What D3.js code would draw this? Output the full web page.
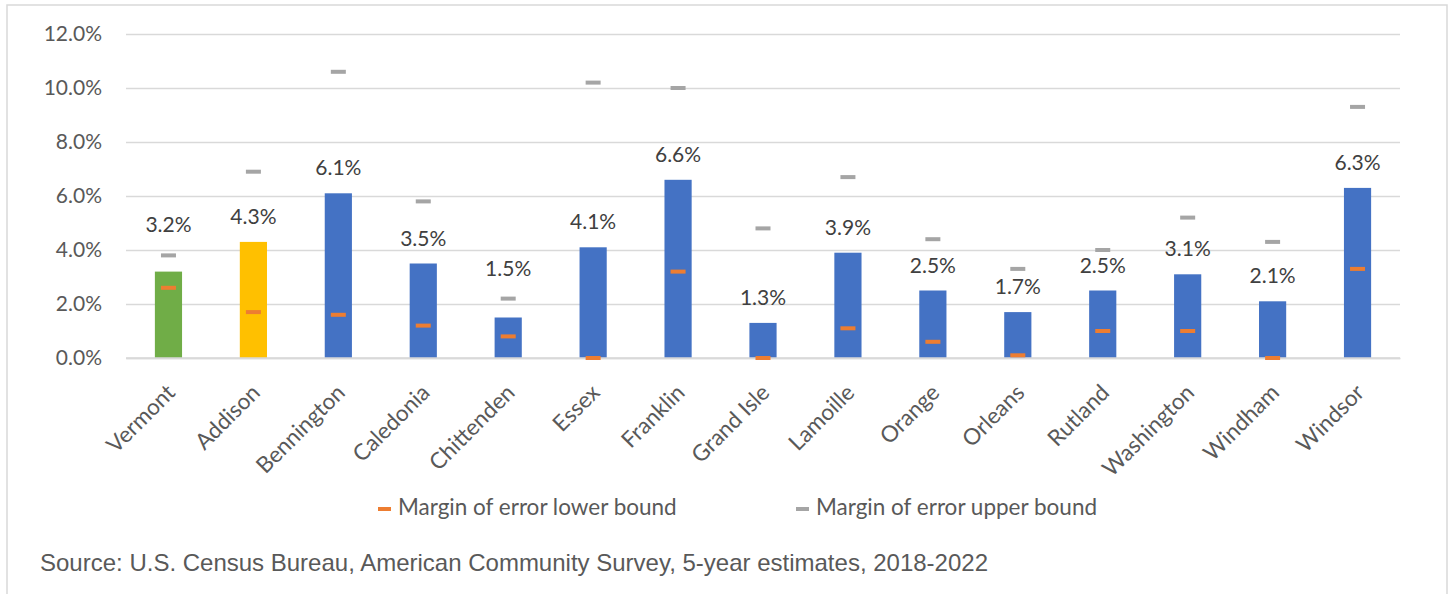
<!DOCTYPE html>
<html>
<head>
<meta charset="utf-8">
<script src="https://cdn.jsdelivr.net/npm/d3@7"></script>
<style>
  html, body { margin: 0; padding: 0; background: #ffffff; }
  svg { display: block; }
</style>
</head>
<body>
<svg id="chart" width="1450" height="594"></svg>
<script>
// Counties of Vermont, share estimate with its margin-of-error bounds (percent)
const categories = ["Vermont", "Addison", "Bennington", "Caledonia", "Chittenden", "Essex",
  "Franklin", "Grand Isle", "Lamoille", "Orange", "Orleans", "Rutland", "Washington",
  "Windham", "Windsor"];
const estimates   = [3.2, 4.3, 6.1, 3.5, 1.5, 4.1, 6.6, 1.3, 3.9, 2.5, 1.7, 2.5, 3.1, 2.1, 6.3];
const lowerBounds = [2.6, 1.7, 1.6, 1.2, 0.8, 0.0, 3.2, 0.0, 1.1, 0.6, 0.1, 1.0, 1.0, 0.0, 3.3];
const upperBounds = [3.8, 6.9, 10.6, 5.8, 2.2, 10.2, 10.0, 4.8, 6.7, 4.4, 3.3, 4.0, 5.2, 4.3, 9.3];
const yTicks = [0, 2, 4, 6, 8, 10, 12];
const legendLabels = ["Margin of error lower bound", "Margin of error upper bound"];
const sourceNote = "Source: U.S. Census Bureau, American Community Survey, 5-year estimates, 2018-2022";

const rows = categories.map((c, i) => ({
  name: c, value: estimates[i], lo: lowerBounds[i], hi: upperBounds[i], idx: i
}));

const svg = d3.select("#chart");
const FONT = "Lato, 'Open Sans', sans-serif";
const plot = { left: 126, right: 1400, top: 34, bottom: 358 };

// outer frame
svg.append("rect")
  .attr("x", 7).attr("y", 5).attr("width", 1440).attr("height", 600)
  .attr("fill", "none").attr("stroke", "#d9d9d9").attr("stroke-width", 1.5);

const x = d3.scaleBand().domain(categories)
  .range([plot.left, plot.right]).paddingInner(0.68).paddingOuter(0.34);
const y = d3.scaleLinear().domain([0, 12]).range([plot.bottom, plot.top]);

// y axis with gridlines
const yAxis = svg.append("g")
  .attr("transform", `translate(${plot.left},0)`)
  .call(d3.axisLeft(y).tickValues(yTicks)
    .tickSize(-(plot.right - plot.left)).tickPadding(24)
    .tickFormat(d => d3.format(".1f")(d) + "%"));
yAxis.select(".domain").remove();
yAxis.selectAll(".tick line").attr("stroke", "#d9d9d9").attr("stroke-width", 1.3);
yAxis.selectAll(".tick text")
  .attr("fill", "#595959").style("font-family", FONT).style("font-size", "21px");

// category axis
const xAxis = svg.append("g")
  .attr("transform", `translate(0,${plot.bottom})`)
  .call(d3.axisBottom(x).tickSize(0).tickPadding(0));
xAxis.select(".domain").attr("stroke", "#d9d9d9").attr("stroke-width", 1.5);
xAxis.selectAll(".tick text")
  .attr("y", 0).attr("dy", 0)
  .attr("text-anchor", "end")
  .attr("transform", "translate(8,36) rotate(-45)")
  .attr("fill", "#595959").style("font-family", FONT).style("font-size", "22.5px");

// bars: state total, first county highlighted, then the rest
const barColor = i => i === 0 ? "#70ad47" : (i === 1 ? "#ffc000" : "#4472c4");
svg.append("g").selectAll("rect")
  .data(rows).join("rect")
  .attr("x", d => x(d.name))
  .attr("width", x.bandwidth())
  .attr("y", d => y(d.value))
  .attr("height", d => y(0) - y(d.value))
  .attr("fill", d => barColor(d.idx));

// redraw baseline over bars
svg.append("line")
  .attr("x1", plot.left).attr("x2", plot.right)
  .attr("y1", plot.bottom).attr("y2", plot.bottom)
  .attr("stroke", "#d9d9d9").attr("stroke-width", 1.5);

// margin-of-error dash markers
const mW = 15, mH = 4;
function markers(key, color) {
  svg.append("g").selectAll("rect")
    .data(rows).join("rect")
    .attr("x", d => x(d.name) + x.bandwidth() / 2 - mW / 2)
    .attr("y", d => y(d[key]) - mH / 2)
    .attr("width", mW).attr("height", mH)
    .attr("fill", color);
}
markers("hi", "#a5a5a5");
markers("lo", "#ed7d31");

// value labels above bars; lifted above the upper marker if they would overlap it
svg.append("g").selectAll("text")
  .data(rows).join("text")
  .attr("x", d => x(d.name) + x.bandwidth() / 2)
  .attr("y", d => {
    let base = y(d.value) - 18;
    const my = y(d.hi);
    if (my > base - 17 && my < base + 4) base = my - 23;
    return base;
  })
  .attr("text-anchor", "middle")
  .attr("fill", "#404040")
  .style("font-family", FONT).style("font-size", "21px")
  .text(d => d3.format(".1f")(d.value) + "%");

// legend
const legendColors = ["#ed7d31", "#a5a5a5"];
const legendX = [378, 796];
const lg = svg.append("g");
legendLabels.forEach((t, i) => {
  lg.append("rect").attr("x", legendX[i]).attr("y", 507).attr("width", 13).attr("height", 4)
    .attr("fill", legendColors[i]);
  lg.append("text").attr("x", legendX[i] + 20).attr("y", 515)
    .attr("fill", "#595959").style("font-family", FONT).style("font-size", "22.5px")
    .text(t);
});

// source note
svg.append("text")
  .attr("x", 40).attr("y", 571)
  .attr("fill", "#595959")
  .style("font-family", "'Liberation Sans', Arial, sans-serif").style("font-size", "24px")
  .text(sourceNote);
</script>
</body>
</html>
